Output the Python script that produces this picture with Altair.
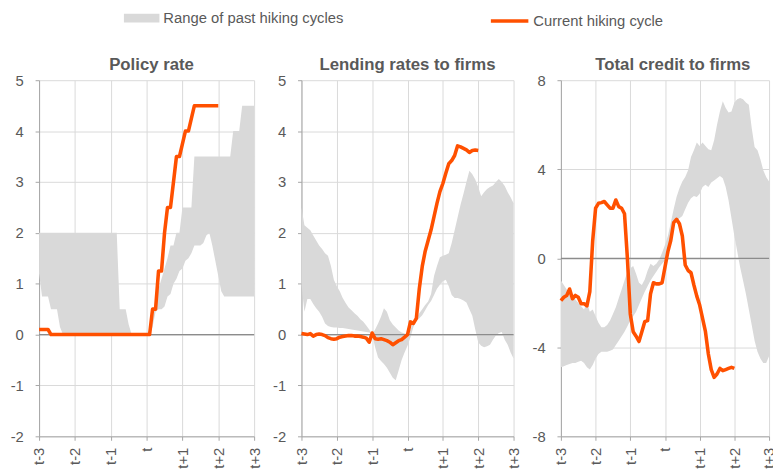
import altair as alt
import pandas as pd

months = list(range(-36, 37))
cur_months = list(range(-36, 25))
tick_months = [-36, -24, -12, 0, 12, 24, 36]
tick_labels = ["t-3", "t-2", "t-1", "t", "t+1", "t+2", "t+3"]
titles = ["Policy rate", "Lending rates to firms", "Total credit to firms"]
band_name = "Range of past hiking cycles"
line_name = "Current hiking cycle"

# ---- Policy rate ----
policy_hi = [2.0] * 27 + [0.5, 0.5, 0.5, 0.2, 0, 0, 0, 0, 0, 0,
             0.1, 0.3, 0.6, 0.9, 1.1, 1.3, 1.5, 1.75, 1.75, 2.0, 2.0, 2.5, 2.5, 2.5, 2.5,
             3.5, 3.5, 3.5, 3.5, 3.5, 3.5, 3.5, 3.5, 3.5, 3.5, 3.5, 3.5, 3.5,
             4.0, 4.0, 4.0, 4.5, 4.5, 4.5, 4.5, 4.5]
policy_lo = [1.2, 0.75, 0.75, 0.75, 0.5, 0.5, 0.5, 0.15] + [0] * 30 + [
             0.15, 0.45, 0.5, 0.5, 0.55, 0.75, 0.8, 1.0, 1.1, 1.25, 1.3, 1.45, 1.5, 1.6,
             1.75, 1.75, 1.75, 1.8, 1.95, 2.0, 1.75, 1.45, 1.15, 0.85,
             0.75, 0.75, 0.75, 0.75, 0.75, 0.75, 0.75, 0.75, 0.75, 0.75, 0.75]
policy_cur = [0.1, 0.1, 0.1, 0.1] + [0] * 34 + [
              0.5, 0.5, 1.25, 1.25, 2.0, 2.5, 2.5, 3.0, 3.5, 3.5, 3.75, 4.0, 4.0, 4.25,
              4.5, 4.5, 4.5, 4.5, 4.5, 4.5, 4.5, 4.5, 4.5]

# ---- Lending rates to firms ----
lend_hi = [2.5, 2.15, 2.1, 2.05, 1.95, 1.85, 1.75, 1.68, 1.6, 1.55, 1.35, 1.08, 0.95,
           0.85, 0.72, 0.62, 0.53, 0.48, 0.42, 0.37, 0.3, 0.25, 0.18, 0.1, 0.0, 0.1,
           0.22, 0.35, 0.52, 0.45, 0.28, 0.2, 0.14, 0.08, 0.04, 0.02, 0.0,
           0.1, 0.24, 0.32, 0.42, 0.5, 0.58, 0.65, 0.8, 1.15, 1.35, 1.52, 1.55, 1.57,
           1.6, 1.8, 2.05, 2.3, 2.55, 2.77, 3.0, 3.22, 3.15, 3.05, 2.9, 2.72, 2.8,
           2.86, 2.9, 2.93, 3.0, 3.06, 3.0, 2.92, 2.8, 2.7, 2.58]
lend_lo = [1.0, 0.45, 0.7, 0.7, 0.6, 0.52, 0.45, 0.35, 0.22, 0.17, 0.15, 0.14, 0.14,
           0.13, 0.13, 0.12, 0.11, 0.1, 0.09, 0.08, 0.07, 0.06, 0.05, 0.04, 0.0, -0.25,
           -0.45, -0.52, -0.58, -0.65, -0.75, -0.85, -0.9, -0.7, -0.5, -0.35, -0.22,
           -0.05, 0.15, 0.26, 0.32, 0.38, 0.48, 0.58, 0.66, 0.78, 0.9, 0.98, 1.05, 1.08,
           0.95, 0.78, 0.72, 0.72, 0.7, 0.67, 0.63, 0.5, 0.37, 0.1, -0.15, -0.22, -0.25,
           -0.23, -0.2, -0.1, -0.02, 0.03, 0.05, -0.1, -0.2, -0.35, -0.47]
lend_cur = [0.02, 0.01, 0.0, 0.02, -0.03, 0.0, 0.01, 0.0, -0.02, -0.06, -0.08, -0.09,
            -0.08, -0.05, -0.04, -0.03, -0.02, -0.02, -0.03, -0.03, -0.04, -0.05, -0.07,
            -0.15, 0.03, -0.08, -0.09, -0.08, -0.1, -0.12, -0.15, -0.2, -0.16, -0.12,
            -0.1, -0.05, 0.0, 0.25, 0.22, 0.32, 0.9, 1.34, 1.64, 1.85, 2.06, 2.32, 2.58,
            2.81, 2.97, 3.17, 3.36, 3.42, 3.52, 3.71, 3.69, 3.66, 3.63, 3.58, 3.62, 3.63,
            3.62]

# ---- Total credit to firms ----
credit_hi = [-1.0, -1.2, -1.4, -1.55, -1.7, -1.85, -2.0, -2.15, -2.3, -2.0, -2.4, -2.3,
             -2.6, -2.9, -3.1, -3.1, -3.0, -2.8, -2.5, -2.2, -1.8, -1.4, -1.0, -0.6,
             -0.45, -0.35, -0.7, -1.1, -1.2, -0.95, -0.55, -0.25, -0.35, -0.25, -0.05,
             0.25, 0.6, 1.0, 1.6, 2.2, 2.75, 3.15, 3.45, 3.65, 3.95, 4.55, 4.85, 5.2,
             5.05, 5.2, 5.05, 4.9, 4.85, 5.3, 6.0, 6.6, 7.05, 6.75, 6.55, 6.6, 7.0, 7.15,
             7.2, 7.15, 7.0, 6.9, 5.85, 5.0, 4.85, 4.45, 3.95, 3.65, 3.45]
credit_lo = [-4.9, -4.85, -4.8, -4.75, -4.7, -4.7, -4.65, -4.6, -4.7, -4.9, -5.0, -4.8,
             -4.5, -4.3, -4.2, -4.2, -4.2, -4.15, -4.1, -3.9, -3.7, -3.5, -3.3, -3.05,
             -2.8, -2.6, -2.4, -2.1, -1.8, -1.5, -1.25, -1.0, -0.8, -0.6, -0.4, -0.25,
             -0.1, 0.3, 0.9, 1.4, 1.7, 1.8, 1.9, 2.2, 2.5, 2.7, 2.8, 2.75, 2.9, 3.2, 3.3,
             3.2, 3.4, 3.5, 3.6, 3.7, 3.6, 3.2, 2.6, 1.8, 1.0, 0.3, -0.4, -1.0, -1.6,
             -2.3, -3.0, -3.7, -4.2, -4.5, -4.7, -4.7, -4.4]
credit_cur = [-1.9, -1.75, -1.67, -1.38, -1.82, -1.67, -1.75, -2.04, -2.04, -2.14, -1.5,
              0.8, 2.25, 2.47, 2.5, 2.55, 2.4, 2.25, 2.25, 2.62, 2.32, 2.25, 2.0, 0.0,
              -2.5, -3.3, -3.5, -3.74, -3.3, -2.85, -2.8, -1.6, -1.1, -1.15, -1.15, -1.1,
              -0.4, 0.3, 0.8, 1.6, 1.75, 1.55, 1.0, -0.3, -0.55, -0.65, -1.2, -1.7, -2.1,
              -2.7, -3.3, -4.3, -5.0, -5.35, -5.2, -4.95, -5.05, -5.0, -4.95, -4.9, -4.95]

FONT = "Liberation Sans"
TXT = "#595959"
x_label_expr = "[" + ",".join("'%s'" % t for t in tick_labels) + "][round((datum.value + 36) / 12)]"
y_label_expr = "datum.value < 0 ? '-' + abs(datum.value) : '' + datum.value"

x_axis = alt.Axis(values=tick_months, labelExpr=x_label_expr, title=None,
                  labelAngle=270, labelAlign="right", labelBaseline="middle",
                  labelPadding=7, tickSize=4, labelOverlap=False)


def panel(title, lo, hi, cur, ydom, yticks, width, tdx):
    band_df = pd.DataFrame({"m": months, "lo": lo, "hi": hi, "series": band_name})
    cur_df = pd.DataFrame({"m": cur_months, "v": cur, "series": line_name})
    zero_df = pd.DataFrame({"z": [0]})
    xscale = alt.Scale(domain=[-36, 36], nice=False, zero=False)
    yscale = alt.Scale(domain=ydom, nice=False)
    band = alt.Chart(band_df).mark_area(opacity=1, interpolate="linear").encode(
        x=alt.X("m:Q", scale=xscale, axis=x_axis),
        y=alt.Y("lo:Q", scale=yscale,
                axis=alt.Axis(values=yticks, title=None, labelPadding=12, tickSize=4,
                              labelExpr=y_label_expr)),
        y2="hi:Q",
        fill=alt.Fill("series:N",
                      scale=alt.Scale(domain=[band_name], range=["#d9d9d9"]),
                      legend=alt.Legend(title=None, orient="none", legendX=86, legendY=-81,
                                        symbolType="M-1,-0.25H1V0.25H-1Z", symbolSize=1296,
                                        symbolStrokeWidth=0, labelFontSize=15, labelLimit=400,
                                        labelColor=TXT, labelFont=FONT, labelOffset=4)),
    )
    zero = alt.Chart(zero_df).mark_rule(color="#8c8c8c", strokeWidth=1.3).encode(y="z:Q")
    line = alt.Chart(cur_df).mark_line(strokeWidth=3.6, strokeJoin="round").encode(
        x=alt.X("m:Q", scale=xscale, axis=x_axis),
        y="v:Q",
        stroke=alt.Stroke("series:N",
                          scale=alt.Scale(domain=[line_name], range=["#ff5000"]),
                          legend=alt.Legend(title=None, orient="none", legendX=456, legendY=-81,
                                            symbolType="stroke", symbolSize=1444,
                                            symbolStrokeWidth=3.6, labelFontSize=15,
                                            labelLimit=400,
                                            labelColor=TXT, labelFont=FONT, labelOffset=3)),
    )
    return alt.layer(band, zero, line).properties(
        width=width, height=361,
        title=alt.TitleParams(title, fontSize=17, fontWeight="bold", color=TXT,
                              font=FONT, offset=-1, dx=tdx),
    )


p1 = panel(titles[0], policy_lo, policy_hi, policy_cur, [-2, 5], [-2, -1, 0, 1, 2, 3, 4, 5], 218, 5)
p2 = panel(titles[1], lend_lo, lend_hi, lend_cur, [-2, 5], [-2, -1, 0, 1, 2, 3, 4, 5], 215, 0)
p3 = panel(titles[2], credit_lo, credit_hi, credit_cur, [-8, 8], [-8, -4, 0, 4, 8], 211, 8)

chart = alt.hconcat(p1, p2, p3, spacing=10).properties(
    padding={"left": 1.5, "top": -11, "right": -4, "bottom": 4}
).configure_view(stroke=None).configure_axis(
    labelFont=FONT, labelFontSize=15, labelColor=TXT,
    domainColor="#a6a6a6", tickColor="#a6a6a6", gridColor="#d9d9d9",
    gridWidth=1, domainWidth=1,
).configure_axisX(labelOverlap=False)

chart.save("out.html", embed_options={"renderer": "svg", "actions": False})
